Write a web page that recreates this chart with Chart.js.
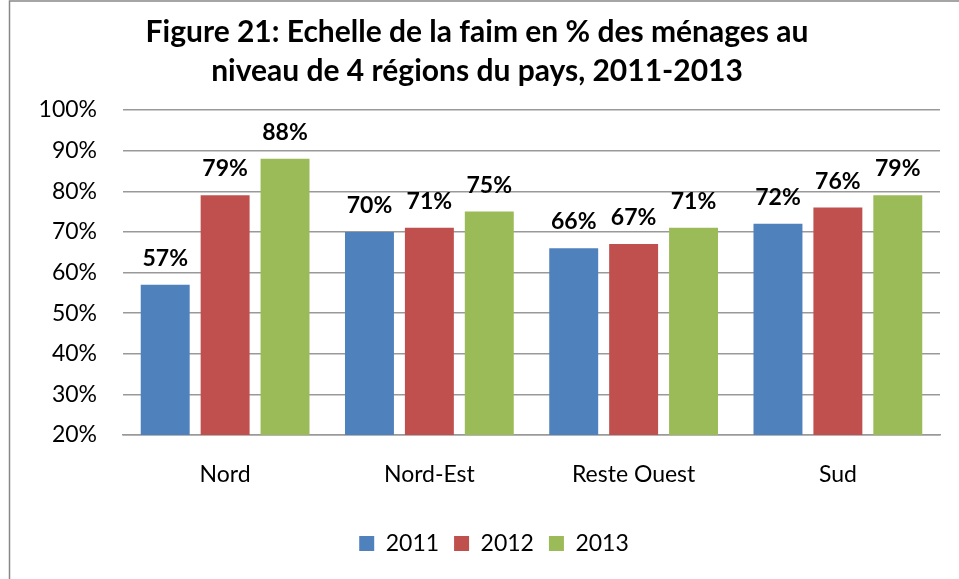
<!DOCTYPE html>
<html>
<head>
<meta charset="utf-8">
<script src="https://cdn.jsdelivr.net/npm/chart.js@4"></script>
<style>
  html, body { margin: 0; padding: 0; background: #fff; }
  #wrap { width: 959px; height: 579px; }
</style>
</head>
<body>
<div id="wrap"><canvas id="chart" width="959" height="579"></canvas></div>
<script>
// chart data
const regions = ["Nord", "Nord-Est", "Reste Ouest", "Sud"];
const years = ["2011", "2012", "2013"];
const values2011 = [57, 70, 66, 72];
const values2012 = [79, 71, 67, 76];
const values2013 = [88, 75, 71, 79];
const colors = ["#4F81BD", "#C0504D", "#9BBB59"];
const titleLines = [
  "Figure 21: Echelle de la faim en % des ménages au",
  "niveau de 4 régions du pays, 2011-2013"
];

const FONT = "Lato, 'Open Sans', sans-serif";

// draws frame + white background
const frame = {
  id: "frame",
  beforeDraw(chart) {
    const ctx = chart.ctx;
    ctx.save();
    ctx.fillStyle = "#fff";
    ctx.fillRect(0, 0, chart.width, chart.height);
    ctx.strokeStyle = "#888";
    ctx.lineWidth = 1.5;
    ctx.strokeRect(9.5, 1, chart.width + 10, chart.height + 10);
    ctx.restore();
  }
};

// legend sits a bit right of centre in the original
const legendShift = {
  id: "legendShift",
  afterLayout(chart) {
    if (chart.legend) {
      chart.legend.left += 17;
      chart.legend.right += 17;
    }
  }
};

// value labels above bars
const barLabels = {
  id: "barLabels",
  afterDatasetsDraw(chart) {
    const ctx = chart.ctx;
    ctx.save();
    ctx.font = "bold 23px " + FONT;
    ctx.fillStyle = "#000";
    ctx.textAlign = "center";
    ctx.textBaseline = "alphabetic";
    chart.data.datasets.forEach((ds, i) => {
      chart.getDatasetMeta(i).data.forEach((bar, j) => {
        ctx.fillText(ds.data[j] + "%", bar.x, bar.y - 19);
      });
    });
    ctx.restore();
  }
};

new Chart(document.getElementById("chart"), {
  type: "bar",
  data: {
    labels: regions,
    datasets: [
      { label: years[0], data: values2011, backgroundColor: colors[0] },
      { label: years[1], data: values2012, backgroundColor: colors[1] },
      { label: years[2], data: values2013, backgroundColor: colors[2] },
    ],
  },
  options: {
    responsive: false,
    animation: false,
    layout: { padding: { left: 14, right: 19, top: 0, bottom: 14 } },
    datasets: {
      bar: { categoryPercentage: 0.88, barPercentage: 0.817 },
    },
    plugins: {
      title: {
        display: true,
        text: titleLines,
        color: "#000",
        font: { family: FONT, size: 30, weight: "bold", lineHeight: 1.3 },
        padding: { top: 13, bottom: 19 },
      },
      legend: {
        position: "bottom",
        labels: {
          color: "#000",
          boxWidth: 15,
          boxHeight: 15,
          padding: 15,
          font: { family: FONT, size: 23 },
        },
      },
      tooltip: { enabled: false },
    },
    scales: {
      x: {
        grid: { display: false, drawTicks: false },
        border: { color: "#999", width: 1.5 },
        ticks: { color: "#000", padding: 26, font: { family: FONT, size: 23 } },
        afterFit: (s) => { s.height = 82; },
      },
      y: {
        min: 20,
        max: 100,
        grid: { color: "#999", lineWidth: 1.5, drawTicks: false },
        border: { display: false },
        ticks: {
          stepSize: 10,
          color: "#000",
          padding: 26,
          font: { family: FONT, size: 23 },
          callback: (v) => v + "%",
        },
        afterFit: (s) => { s.width = 109; },
      },
    },
  },
  plugins: [frame, legendShift, barLabels],
});
</script>
</body>
</html>
